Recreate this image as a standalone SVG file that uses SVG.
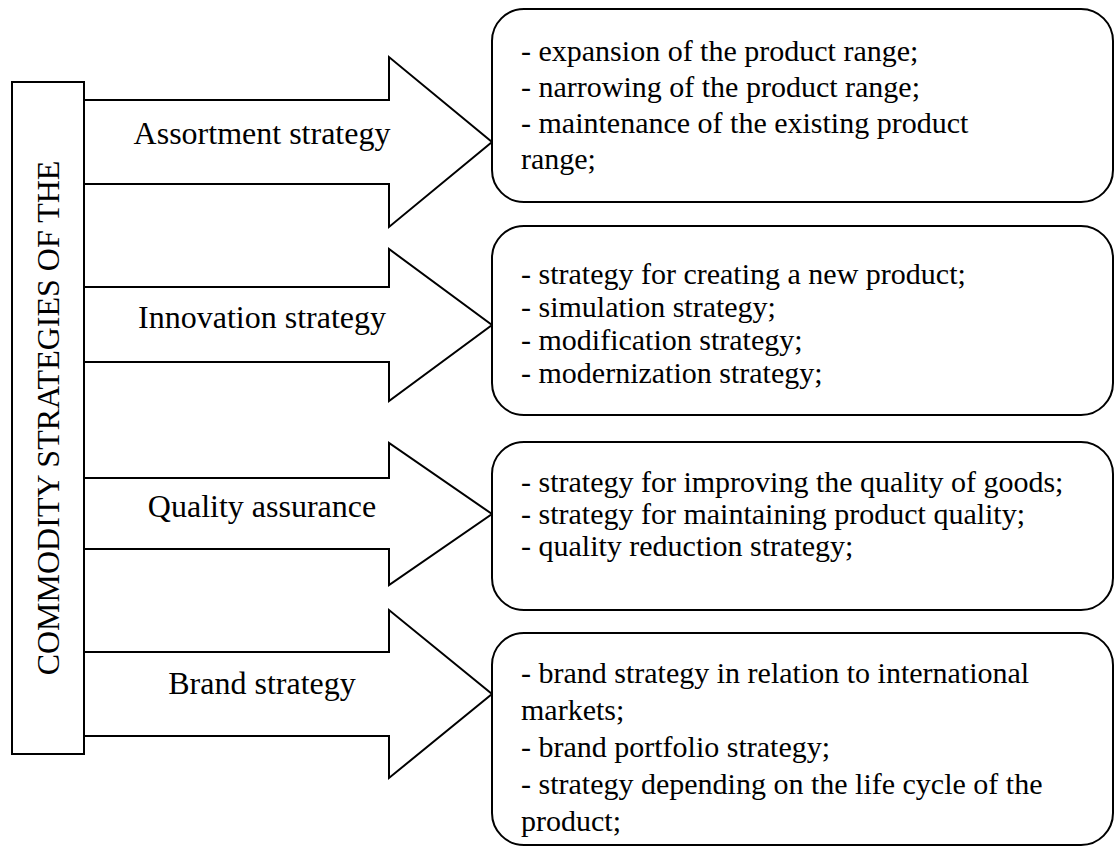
<svg xmlns="http://www.w3.org/2000/svg" width="1117" height="846" viewBox="0 0 1117 846">
  <style>
    .shape { fill: #ffffff; stroke: #000000; stroke-width: 2; stroke-linejoin: miter; }
    .box { fill: #ffffff; stroke: #000000; stroke-width: 2; }
    .label { font-family: "Liberation Serif", "Times New Roman", serif; font-size: 32px; fill: #000000; text-anchor: middle; }
    .item { font-family: "Liberation Serif", "Times New Roman", serif; font-size: 30px; fill: #000000; }
  </style>
  <rect x="0" y="0" width="1117" height="846" fill="#ffffff"/>

  <!-- vertical title bar -->
  <g id="title">
    <rect class="shape" x="12" y="82" width="72" height="672"/>
    <text class="label" transform="translate(59,418) rotate(-90)">COMMODITY STRATEGIES OF THE</text>
  </g>

  <!-- block arrows leading from the title bar to the detail boxes -->
  <g id="connectors">
    <polygon class="shape" points="84,100 389,100 389,57 492,142 389,227 389,184 84,184"/>
    <polygon class="shape" points="84,287 389,287 389,249 492,325 389,401 389,362 84,362"/>
    <polygon class="shape" points="84,478 389,478 389,443 492,514 389,585 389,549 84,549"/>
    <polygon class="shape" points="84,652 389,652 389,610 492,694 389,778 389,736 84,736"/>
  </g>

  <g id="label-assortment"><text class="label" x="262" y="144">Assortment strategy</text></g>
  <g id="label-innovation"><text class="label" x="262" y="328">Innovation strategy</text></g>
  <g id="label-quality"><text class="label" x="262" y="517">Quality assurance</text></g>
  <g id="label-brand"><text class="label" x="262" y="694">Brand strategy</text></g>

  <g id="box-assortment">
    <rect class="box" x="492" y="9" width="621" height="193" rx="32" ry="32"/>
    <text class="item" x="521" y="61">- expansion of the product range;</text>
    <text class="item" x="521" y="97">- narrowing of the product range;</text>
    <text class="item" x="521" y="133">- maintenance of the existing product</text>
    <text class="item" x="521" y="169">range;</text>
  </g>

  <g id="box-innovation">
    <rect class="box" x="492" y="226" width="621" height="189" rx="32" ry="32"/>
    <text class="item" x="521" y="284">- strategy for creating a new product;</text>
    <text class="item" x="521" y="317">- simulation strategy;</text>
    <text class="item" x="521" y="350">- modification strategy;</text>
    <text class="item" x="521" y="383">- modernization strategy;</text>
  </g>

  <g id="box-quality">
    <rect class="box" x="492" y="442" width="621" height="168" rx="32" ry="32"/>
    <text class="item" x="521" y="492">- strategy for improving the quality of goods;</text>
    <text class="item" x="521" y="524">- strategy for maintaining product quality;</text>
    <text class="item" x="521" y="556">- quality reduction strategy;</text>
  </g>

  <g id="box-brand">
    <rect class="box" x="492" y="633" width="621" height="212" rx="32" ry="32"/>
    <text class="item" x="521" y="683">- brand strategy in relation to international</text>
    <text class="item" x="521" y="720">markets;</text>
    <text class="item" x="521" y="757">- brand portfolio strategy;</text>
    <text class="item" x="521" y="794">- strategy depending on the life cycle of the</text>
    <text class="item" x="521" y="831">product;</text>
  </g>
</svg>
